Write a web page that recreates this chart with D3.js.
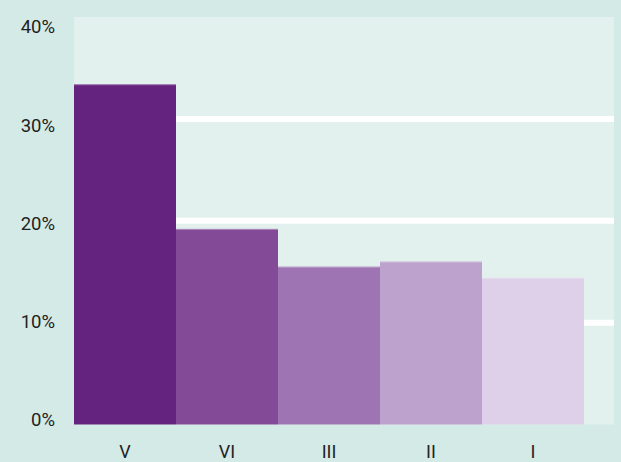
<!DOCTYPE html>
<html>
<head>
<meta charset="utf-8">
<script src="https://cdn.jsdelivr.net/npm/d3@7"></script>
<style>
  html, body { margin: 0; padding: 0; background: #d4eae6; }
  svg { display: block; font-family: Roboto, "Noto Sans", sans-serif; }
</style>
</head>
<body>
<svg id="chart" width="621" height="462"></svg>
<script>
// chart data
const categories = ['V', 'VI', 'III', 'II', 'I']
const shares = [33.4, 19.2, 15.5, 16.0, 14.4]
const barColors = ['#652380', '#834a97', '#9e74b2', '#bca2cd', '#ddd0e8']
const yTicks = [0, 10, 20, 30, 40]

function makeBars() {
  const svg = d3.select('#chart')
  const width = 621
  const height = 462
  const plot = { left: 74, right: 614, top: 17, bottom: 424.5 }

  // background
  svg.append('rect')
    .attr('width', width)
    .attr('height', height)
    .attr('fill', '#d4eae6')

  // plot panel
  svg.append('rect')
    .attr('x', plot.left)
    .attr('y', plot.top)
    .attr('width', plot.right - plot.left)
    .attr('height', plot.bottom - plot.top)
    .attr('fill', '#e3f1ee')

  const x = d3.scaleBand()
    .domain(categories)
    .range([plot.left, plot.left + 510])
    .padding(0)

  const y = d3.scaleLinear()
    .domain([0, 40])
    .range([plot.bottom, plot.top])

  // labels sit a little apart from the grid lines
  const yLabel = d3.scaleLinear()
    .domain([0, 40])
    .range([420, 27])

  // grid lines
  svg.append('g')
    .selectAll('line')
    .data(yTicks.filter(t => t > 0 && t < 40))
    .enter()
    .append('line')
    .attr('x1', plot.left)
    .attr('x2', plot.right)
    .attr('y1', d => y(d))
    .attr('y2', d => y(d))
    .attr('stroke', '#ffffff')
    .attr('stroke-width', 6)

  // bars
  svg.append('g')
    .selectAll('rect')
    .data(shares)
    .enter()
    .append('rect')
    .attr('x', (d, i) => x(categories[i]))
    .attr('y', d => y(d))
    .attr('width', x.bandwidth())
    .attr('height', d => y(0) - y(d))
    .attr('fill', (d, i) => barColors[i])

  // thin light edge on top of bars
  svg.append('g')
    .selectAll('line')
    .data(shares)
    .enter()
    .append('line')
    .attr('x1', (d, i) => x(categories[i]))
    .attr('x2', (d, i) => x(categories[i]) + x.bandwidth())
    .attr('y1', d => y(d) + 0.5)
    .attr('y2', d => y(d) + 0.5)
    .attr('stroke', '#ffffff')
    .attr('stroke-opacity', 0.35)
    .attr('stroke-width', 1)

  // y labels
  svg.append('g')
    .selectAll('text')
    .data(yTicks)
    .enter()
    .append('text')
    .attr('x', 55)
    .attr('y', d => yLabel(d))
    .attr('dy', '0.35em')
    .attr('text-anchor', 'end')
    .attr('font-size', 18.5)
    .attr('fill', '#222222')
    .text(d => d + '%')

  // x labels
  svg.append('g')
    .selectAll('text')
    .data(categories)
    .enter()
    .append('text')
    .attr('x', d => x(d) + x.bandwidth() / 2)
    .attr('y', 458)
    .attr('text-anchor', 'middle')
    .attr('font-size', 18)
    .attr('fill', '#222222')
    .text(d => d)
}

window.onload = makeBars
</script>
</body>
</html>
